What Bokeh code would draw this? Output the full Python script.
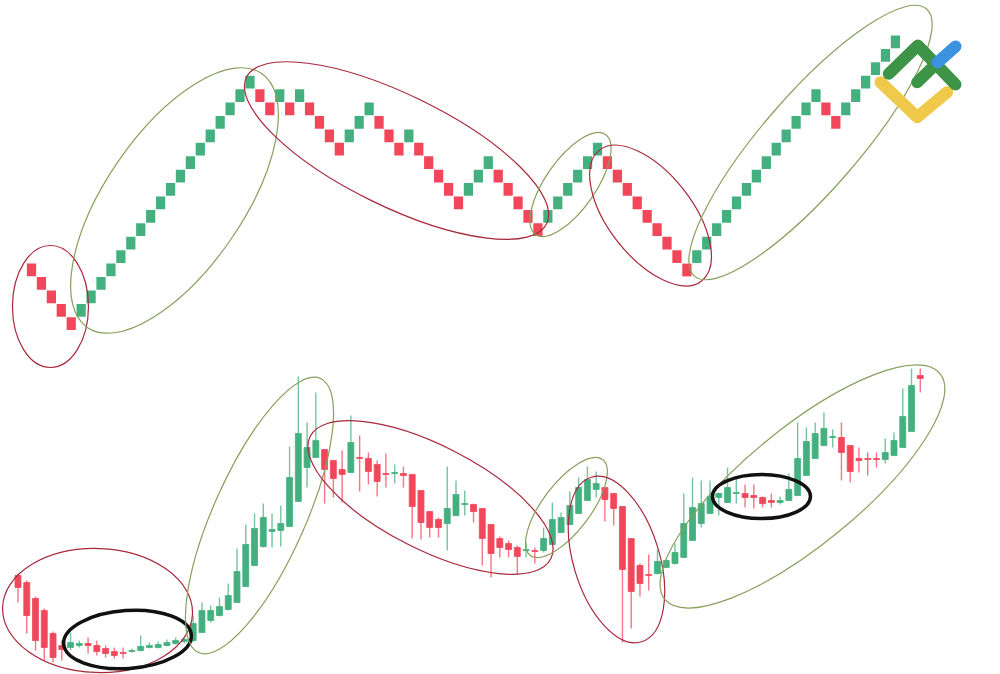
from bokeh.plotting import figure
from bokeh.models import Range1d, ColumnDataSource
from bokeh.embed import file_html
from bokeh.resources import INLINE

# ---------------- Renko chart (top) ----------------
# brick directions, left to right ("G" = up brick, "R" = down brick)
renko_dirs = (["R"] * 5 + ["G"] * 18 +
              ["R", "R", "G", "R", "G", "R", "R", "R", "R", "G", "G", "G", "R", "R", "R",
               "G", "R", "R", "R", "R", "R", "G", "G", "G", "R", "R", "R", "R", "R"] +
              ["G"] * 6 + ["R"] * 9 +
              ["G"] * 13 + ["R"] * 2 + ["G"] * 6)
renko_start_level = 0

# ---------------- Candlestick chart (bottom) ----------------
opens = [12.5, 11.8, 10.2, 9.0, 6.7, 5.5, 5.3, 5.5, 5.7, 5.5,
         5.2, 4.9, 4.8, 4.9, 5.0, 5.3, 5.3, 5.5, 5.7, 5.9,
         6.0, 6.8, 8.0, 8.5, 9.1, 9.8, 11.4, 13.5, 15.4, 16.9,
         17.0, 17.4, 19.9, 23.3, 24.3, 25.1, 24.0, 23.1, 22.8, 24.3,
         24.2, 23.6, 22.7, 22.7, 22.7, 22.6, 21.0, 18.9, 18.1, 17.7,
         18.5, 19.6, 19.6, 19.2, 17.6, 16.2, 15.7, 15.3, 15.0, 15.0,
         15.0, 15.6, 16.8, 17.6, 18.7, 20.0, 21.1, 21.3, 20.7, 19.4,
         16.2, 13.5, 12.6, 12.7, 13.3, 13.7, 14.3, 16.0, 17.7, 18.7,
         20.3, 19.8, 20.7, 20.7, 20.5, 20.3, 20.0, 19.8, 20.0, 20.5,
         22.5, 24.2, 25.5, 26.3, 26.3, 25.5, 24.2, 24.2, 24.2, 24.1,
         24.5, 25.3, 26.9, 32.5]
highs = [12.7, 12.0, 10.4, 9.2, 6.9, 6.0, 6.8, 6.0, 6.3, 6.0,
         5.5, 5.3, 5.3, 5.2, 6.5, 5.8, 5.9, 6.1, 6.3, 6.3,
         8.5, 9.8, 9.5, 10.3, 11.7, 15.2, 17.6, 18.7, 19.7, 18.7,
         19.5, 25.4, 32.4, 27.8, 30.8, 25.1, 24.0, 25.0, 28.5, 26.5,
         24.8, 24.0, 24.7, 23.6, 23.4, 22.6, 21.0, 18.9, 18.3, 23.4,
         22.0, 21.0, 19.7, 19.2, 17.6, 16.4, 16.0, 15.5, 15.8, 15.3,
         17.3, 19.8, 18.8, 20.9, 22.3, 23.4, 22.9, 21.3, 20.7, 19.4,
         16.2, 13.7, 14.6, 15.1, 14.2, 15.7, 20.7, 22.3, 22.0, 22.0,
         20.8, 23.3, 22.2, 21.6, 21.6, 20.4, 20.7, 20.4, 22.7, 27.8,
         27.3, 27.8, 28.8, 27.1, 27.8, 25.5, 25.3, 24.8, 24.8, 26.2,
         26.8, 31.2, 33.2, 33.2]
lows = [9.8, 6.7, 5.0, 4.0, 3.8, 4.0, 5.0, 5.3, 4.7, 4.5,
        4.3, 4.2, 4.2, 4.8, 4.9, 5.2, 5.2, 5.4, 5.6, 5.7,
        5.8, 6.8, 7.8, 8.4, 9.0, 9.8, 11.4, 13.5, 15.3, 15.3,
        15.4, 17.4, 19.9, 21.3, 24.3, 19.7, 20.3, 19.8, 22.8, 20.9,
        21.6, 20.4, 21.3, 21.7, 21.3, 16.2, 16.1, 16.3, 16.3, 15.0,
        18.5, 18.5, 17.8, 13.5, 12.3, 14.3, 14.3, 12.6, 14.3, 13.7,
        14.8, 15.5, 16.8, 17.6, 18.7, 20.0, 20.3, 17.9, 17.5, 5.8,
        7.2, 10.4, 11.0, 12.6, 13.3, 13.6, 14.3, 16.0, 17.3, 18.7,
        18.5, 19.8, 19.7, 19.3, 19.2, 19.3, 19.3, 19.6, 20.0, 20.5,
        22.5, 24.2, 25.5, 25.3, 22.0, 21.8, 22.8, 22.5, 23.3, 23.7,
        24.5, 25.3, 26.9, 30.8]
closes = [11.3, 8.5, 6.0, 5.3, 4.3, 5.1, 5.8, 5.7, 5.5, 4.9,
          4.7, 4.5, 4.7, 5.0, 5.4, 5.5, 5.6, 5.8, 6.0, 6.1,
          7.7, 9.0, 9.0, 9.4, 10.5, 12.9, 15.6, 17.2, 18.3, 17.1,
          17.7, 22.3, 26.7, 25.3, 26.0, 23.1, 22.2, 22.6, 25.8, 24.2,
          22.9, 21.9, 22.6, 22.8, 22.5, 19.4, 17.8, 17.3, 17.3, 19.2,
          20.6, 19.7, 18.9, 16.2, 14.7, 15.3, 15.1, 14.4, 15.1, 14.9,
          16.2, 18.1, 18.3, 19.5, 21.3, 22.1, 21.7, 20.1, 19.2, 13.1,
          10.9, 11.7, 12.5, 13.9, 14.0, 14.8, 17.7, 19.3, 19.7, 20.4,
          20.7, 21.3, 20.8, 20.3, 20.3, 19.7, 19.8, 20.0, 21.1, 24.2,
          25.9, 26.7, 27.2, 26.4, 24.8, 22.9, 24.0, 24.1, 24.1, 24.8,
          26.0, 28.4, 31.5, 32.2]

# ---------------- Highlight ellipses ----------------
# top chart (brick index, brick level)
top_ell_x = [1.91, 14.4, 36.76, 54.28, 62.34, 78.45]
top_ell_y = [-2.72, 5.18, 8.90, 6.37, 4.06, 9.50]
top_ell_kind = ["down", "up", "down", "up", "down", "up"]
# bottom chart (candle index, price)
bot_ell_x = [9.08, 12.5, 27.57, 47.09, 62.61, 68.32, 89.55, 84.87]
bot_ell_y = [9.0, 6.1, 18.5, 20.3, 19.3, 14.1, 21.4, 20.4]
bot_ell_kind = ["down", "flat", "up", "down", "up", "down", "up", "flat"]

GREEN = "#45b07f"
RED = "#f2475a"
ELL_COL = {"up": "#86a05c", "down": "#a8283a", "flat": "#111111"}

p = figure(width=1000, height=674, output_backend="svg", toolbar_location=None,
           x_range=Range1d(-3.122, 97.583), y_range=Range1d(-30.142, 20.082),
           x_axis_location=None, y_axis_location=None, min_border=0)
p.grid.visible = False
p.outline_line_color = None
p.background_fill_color = "white"
p.extra_x_ranges = {"cx": Range1d(-1.998, 112.158), "lx": Range1d(0, 1000)}
p.extra_y_ranges = {"cy": Range1d(2.6, 70.0), "ly": Range1d(674, 0)}

# renko bricks
levels = []
lvl = renko_start_level
for i, d in enumerate(renko_dirs):
    if i > 0:
        lvl += 1 if d == "G" else -1
    levels.append(lvl)
rsrc = ColumnDataSource(dict(x=list(range(len(renko_dirs))), y=levels,
                             c=[GREEN if d == "G" else RED for d in renko_dirs]))
p.rect(x="x", y="y", width=0.93, height=0.95, source=rsrc,
       fill_color="c", line_color=None)

# candles
n = len(opens)
ccol = [GREEN if c >= o else RED for o, c in zip(opens, closes)]
csrc = ColumnDataSource(dict(x=list(range(n)), o=opens, h=highs, l=lows, c=closes,
                             top=[max(o, c) for o, c in zip(opens, closes)],
                             bot=[min(o, c) for o, c in zip(opens, closes)],
                             col=ccol))
p.segment(x0="x", y0="l", x1="x", y1="h", source=csrc, line_color="col",
          line_width=1.4, line_alpha=0.75, x_range_name="cx", y_range_name="cy")
p.vbar(x="x", width=0.68, top="top", bottom="bot", source=csrc,
       fill_color="col", line_color="col", line_width=0.8,
       x_range_name="cx", y_range_name="cy")

# ellipses (screen-sized outlines)
top_w = [76, 308, 334, 122, 166, 354]
top_h = [122, 137, 112, 50, 84, 96]
top_a = [0, 55.5, -26, 55, -52, 49]
p.ellipse(x=top_ell_x, y=top_ell_y, width=top_w, height=top_h, angle=top_a,
          angle_units="deg", width_units="screen", height_units="screen",
          fill_alpha=0, line_color=[ELL_COL[k] for k in top_ell_kind], line_width=1.2)

bot_w = [190, 128, 300, 270, 120, 172, 356, 98]
bot_h = [124, 58, 92, 104, 48, 86, 116, 44]
bot_a = [-2, 4, 66, -27, 53, -73, 39.4, 0]
bot_lw = [1.2 if k != "flat" else 3.5 for k in bot_ell_kind]
p.ellipse(x=bot_ell_x, y=bot_ell_y, width=bot_w, height=bot_h, angle=bot_a,
          angle_units="deg", width_units="screen", height_units="screen",
          fill_alpha=0, line_color=[ELL_COL[k] for k in bot_ell_kind], line_width=bot_lw,
          x_range_name="cx", y_range_name="cy")

# logo (drawn in page-pixel space)
logo_xs = [[880, 916.7, 946.7], [888.3, 917.3, 955], [916.7, 937.3], [937.3, 955]]
logo_ys = [[81.7, 116.7, 91.7], [73.3, 45, 84], [81.7, 61.7], [61.7, 46]]
logo_cols = ["#f0c94a", "#3d9447", "#3d9447", "#3b92e0"]
p.multi_line(xs=logo_xs, ys=logo_ys, line_color=logo_cols, line_width=12,
             line_cap="round", line_join="round", x_range_name="lx", y_range_name="ly")

open("out.html", "w").write(file_html(p, INLINE))
